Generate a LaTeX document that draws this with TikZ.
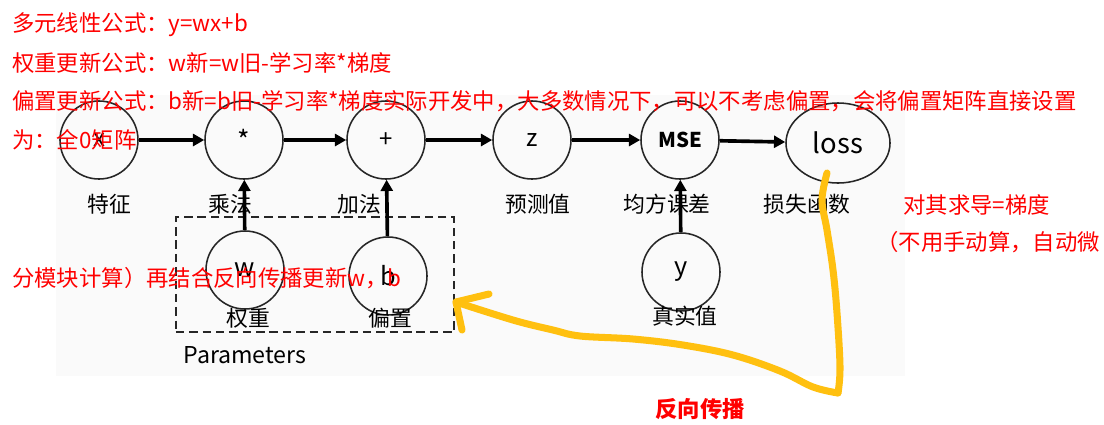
\documentclass[tikz,border=0pt]{standalone}
\usepackage{fontspec}
\setmainfont{Noto Sans CJK SC}
\usetikzlibrary{arrows.meta,shapes.geometric}
\definecolor{notered}{HTML}{FF0000}
\definecolor{penyellow}{HTML}{FFC010}
\definecolor{figgray}{HTML}{FAFAFA}

\begin{document}
\begin{tikzpicture}[x=0.025cm, y=-0.025cm,
		op/.style={circle, draw=black!85, line width=1.1pt, minimum size=1.95cm, inner sep=0pt, font=\fontsize{17}{20}\selectfont},
		flow/.style={-{Triangle[length=8pt,width=8.5pt]}, line width=2.6pt},
		caption/.style={inner sep=0pt, font=\fontsize{15.5}{18}\selectfont},
		note/.style={anchor=west, inner sep=0pt, text=notered, font=\fontsize{15.9}{18}\selectfont},
		backprop/.style={draw=penyellow, line width=5pt, line cap=round, line join=round}]

		\useasboundingbox (0,0) rectangle (1104,424);
		\fill[figgray] (56,95) rectangle (905,376);

		% Define the nodes
		\node[draw=black!85, line width=1.1pt, dash pattern=on 6pt off 3.5pt, minimum width=6.95cm, minimum height=2.875cm] (params) at (315,274.5) {};
		\node[op] (x) at (99,140) {x};
		\node[op, font=\fontsize{19}{20}\selectfont] (mul) at (244,140) {*};
		\node[op] (add) at (386,140) {+};
		\node[op] (z) at (532,140) {z};
		\node[op, font=\fontsize{14.5}{16}\selectfont\bfseries] (mse) at (680,140) {MSE};
		\node[op, ellipse, minimum width=2.6cm, minimum height=2cm, font=\fontsize{19.5}{22}\selectfont] (loss) at (838,143) {loss};
		\node[op, font=\fontsize{18}{20}\selectfont] (w) at (245,270) {w};
		\node[op, font=\fontsize{18}{20}\selectfont] (b) at (388,276) {b};
		\node[op, font=\fontsize{18}{20}\selectfont] (y) at (681,272) {y};

		% Define the edges
		\draw[flow] (x) -- (mul);
		\draw[flow] (mul) -- (add);
		\draw[flow] (add) -- (z);
		\draw[flow] (z) -- (mse);
		\draw[flow] (mse) -- (loss);
		\draw[flow] (w) -- (mul);
		\draw[flow] (b) -- (add);
		\draw[flow] (y) -- (mse);

		% Add labels for nodes
		\node[caption] (featurelbl) at (109,204) {特征};
		\node[caption] (mullbl) at (230,204) {乘法};
		\node[caption] (addlbl) at (359,204) {加法};
		\node[caption] (predlbl) at (538,204) {预测值};
		\node[caption] (mselbl) at (667,204) {均方课差};
		\node[caption] (losslbl) at (807,204) {损失函数};
		\node[caption] (weightlbl) at (248,318) {权重};
		\node[caption] (biaslbl) at (390,318) {偏置};
		\node[caption] (truelbl) at (685,316) {真实值};
		\node[caption, font=\fontsize{16.5}{18}\selectfont] (paramlbl) at (245,355) {Parameters};

		% Backpropagation stroke
		\coordinate (bpstart) at (827,173);
		\coordinate (bpcorner) at (838,393);
		\coordinate (bptip) at (456,302);
		\draw[backprop] plot[smooth, tension=0.6] coordinates {(bpstart) (822,200) (827,230) (833,270) (837,313) (840,367) (bpcorner)};
		\draw[backprop] plot[smooth, tension=0.6] coordinates {(bpcorner) (813,387) (780,371) (733,355) (683,345) (633,339) (580,336) (553,330) (520,322) (487,312) (bptip)};
		\draw[backprop] (489,294) -- (bptip) -- (462,330);

		% Add notes
		\node[note] (formula) at (12,25) {多元线性公式：y=wx+b};
		\node[note] (wupdate) at (12,63) {权重更新公式：w新=w旧-学习率*梯度};
		\node[note] (bupdate) at (12,101) {偏置更新公式：b新=b旧-学习率*梯度实际开发中，大多数情况下，可以不考虑偏置，会将偏置矩阵直接设置};
		\node[note] (bzero) at (12,140) {为：全0矩阵};
		\node[note] (grad) at (903,205) {对其求导=梯度};
		\node[note] (autodiff) at (876,242) {（不用手动算，自动微};
		\node[note] (module) at (12,278) {分模块计算）再结合反向传播更新w，b};
		\node[note, font=\fontsize{15.9}{18}\selectfont\bfseries] (backlbl) at (655,409) {反向传播};

	\end{tikzpicture}
\end{document}
